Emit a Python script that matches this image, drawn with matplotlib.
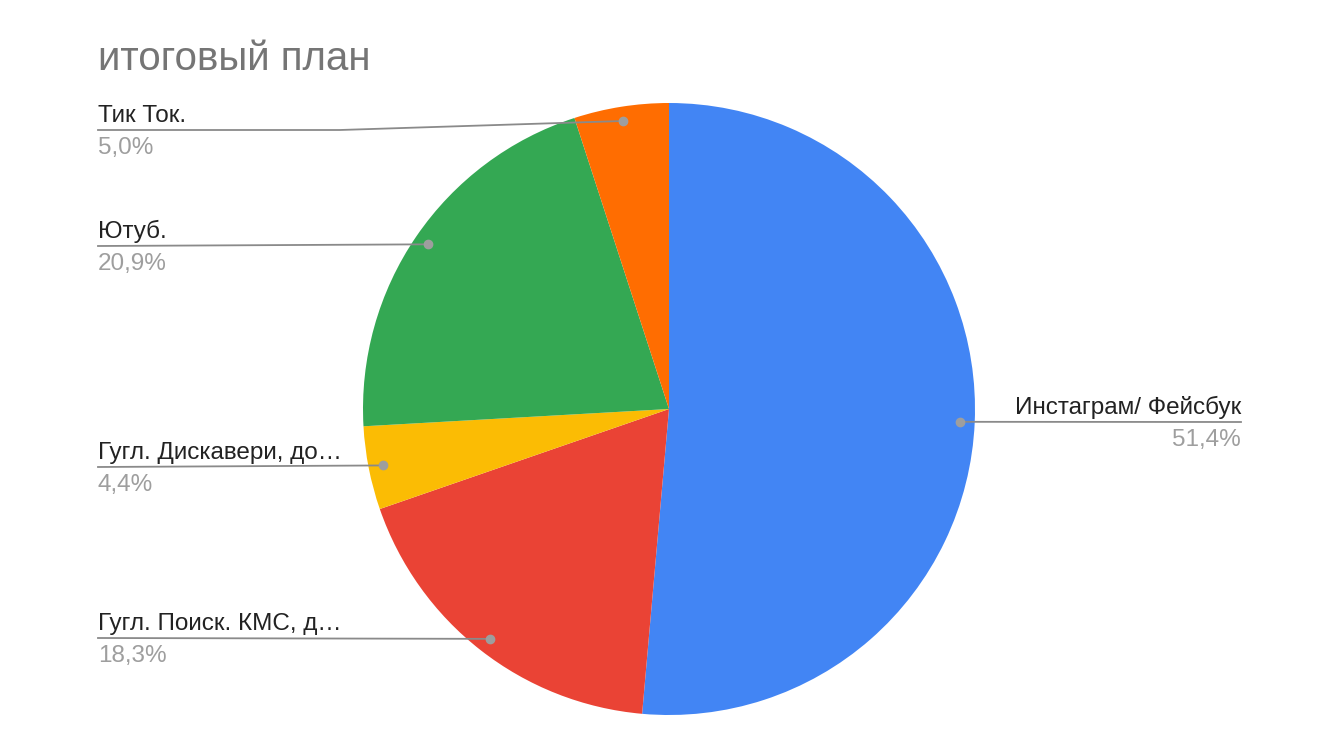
import numpy as np
import matplotlib.pyplot as plt

plt.rcParams['font.family'] = ['Liberation Sans', 'DejaVu Sans']

title = "итоговый план"
labels = ["Инстаграм/ Фейсбук", "Гугл. Поиск. КМС, д…", "Гугл. Дискавери, до…", "Ютуб.", "Тик Ток."]
values = [51.4, 18.3, 4.4, 20.9, 5.0]
colors = ["#4285F4", "#EA4335", "#FBBC04", "#34A853", "#FF6D01"]

W, H = 1340, 754
fig = plt.figure(figsize=(W / 100, H / 100), dpi=100)
ax = fig.add_axes([0, 0, 1, 1])

def py(y):
    # pixel row (top-down) to data y
    return H - y

cx, cy, R = 669, py(409), 306
wedges, _ = ax.pie(values, colors=colors, startangle=90, counterclock=False,
                   center=(cx, cy), radius=R, frame=True,
                   wedgeprops=dict(linewidth=0))
ax.set_xlim(0, W)
ax.set_ylim(0, H)
ax.axis("off")

fig.text(98 / W, 1 - 59 / H, title, fontsize=29, color="#757575", va="center", ha="left")

line_col = "#8a8a8a"
dot_col = "#9e9e9e"
fs = 17.5
# label anchor (side, line y in px, elbow x)
layout = {
    0: ("right", 422, None),
    1: ("left", 638, None),
    2: ("left", 467, None),
    3: ("left", 246, None),
    4: ("left", 130, 340),
}

for i, w in enumerate(wedges):
    mid = np.deg2rad((w.theta1 + w.theta2) / 2)
    dx = cx + 0.953 * R * np.cos(mid)
    dy = cy + 0.953 * R * np.sin(mid)
    side, ly, elbow = layout[i]
    pct = f"{values[i]:.1f}%".replace(".", ",")
    if side == "right":
        x_end = 1241
        ax.plot([dx, x_end], [dy, py(ly)], color=line_col, lw=1.3, zorder=3)
        ax.text(x_end, py(ly) + 3, labels[i], fontsize=fs, color="#222222", ha="right", va="bottom")
        ax.text(x_end, py(ly) - 7, pct, fontsize=fs, color="#9e9e9e", ha="right", va="top")
    else:
        x0 = 98
        if elbow is not None:
            ax.plot([x0, elbow, dx], [py(ly), py(ly), dy], color=line_col, lw=1.3, zorder=3)
        else:
            ax.plot([x0, dx], [py(ly), dy], color=line_col, lw=1.3, zorder=3)
        ax.text(x0, py(ly) + 3, labels[i], fontsize=fs, color="#222222", ha="left", va="bottom")
        ax.text(x0, py(ly) - 7, pct, fontsize=fs, color="#9e9e9e", ha="left", va="top")
    ax.plot(dx, dy, "o", color=dot_col, ms=6, zorder=4)

fig.savefig("out.png", dpi=100, facecolor="white")
